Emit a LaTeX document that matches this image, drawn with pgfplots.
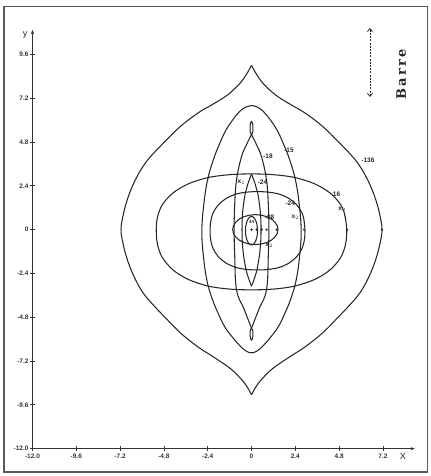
\documentclass[border=0pt]{standalone}
\usepackage{fontspec}
\setmainfont{Liberation Sans}
\newfontfamily\barrefont{DejaVu Serif}
\usepackage{pgfplots}
\pgfplotsset{compat=1.18}
\usetikzlibrary{arrows.meta}
\begin{document}
\begin{tikzpicture}
\pgfplotsset{cur/.style={line width=1.05pt, black!85, smooth, tension=0.7, mark=none}}
\begin{axis}[
  x=18.25pt, y=18.25pt,
  xmin=-12, xmax=9.0, ymin=-12, ymax=11.0,
  axis lines=left,
  axis line style={line width=0.9pt, black!80, -{Latex[length=5pt,width=3pt]}},
  clip=false,
  xtick={-12,-9.6,-7.2,-4.8,-2.4,0,2.4,4.8,7.2},
  xticklabels={-12.0,-9.6,-7.2,-4.8,-2.4,0,2.4,4.8,7.2},
  ytick={-12,-9.6,-7.2,-4.8,-2.4,0,2.4,4.8,7.2,9.6},
  yticklabels={-12.0,-9.6,-7.2,-4.8,-2.4,0,2.4,4.8,7.2,9.6},
  tick align=center,
  major tick length=5pt,
  tick style={line width=0.7pt, black!80},
  ticklabel style={font=\fontsize{6.5}{7}\selectfont\bfseries, text=black!80},
  xticklabel style={yshift=1pt},
  yticklabel style={xshift=2pt},
]
% -136 outer cusped lens
\addplot[cur] coordinates {(0,9.0)(0.25,8.55)(0.56,8.1)(1.0,7.65)(1.45,7.28)(2.2,6.82)(2.93,6.39)(3.9,5.65)(4.75,4.82)(5.55,3.98)(5.95,3.45)(6.3,2.85)(6.6,2.2)(6.85,1.5)(7.03,0.8)(7.15,0)(7.03,-0.8)(6.85,-1.5)(6.6,-2.2)(6.3,-2.85)(5.95,-3.45)(5.5,-4.0)(4.7,-4.85)(3.85,-5.7)(2.9,-6.45)(2.2,-6.9)(1.45,-7.4)(1.0,-7.75)(0.56,-8.2)(0.25,-8.6)(0,-9.05)};
\addplot[cur] coordinates {(0,9.0)(-0.25,8.55)(-0.56,8.1)(-1.0,7.65)(-1.45,7.28)(-2.2,6.82)(-2.93,6.39)(-3.9,5.65)(-4.75,4.82)(-5.55,3.98)(-5.95,3.45)(-6.3,2.85)(-6.6,2.2)(-6.85,1.5)(-7.03,0.8)(-7.15,0)(-7.03,-0.8)(-6.85,-1.5)(-6.6,-2.2)(-6.3,-2.85)(-5.95,-3.45)(-5.5,-4.0)(-4.7,-4.85)(-3.85,-5.7)(-2.9,-6.45)(-2.2,-6.9)(-1.45,-7.4)(-1.0,-7.75)(-0.56,-8.2)(-0.25,-8.6)(0,-9.05)};
% -15 lens
\addplot[cur] coordinates {(0,6.8)(0.3,6.72)(0.64,6.48)(1.0,6.05)(1.4,5.45)(1.75,4.7)(2.1,3.8)(2.4,2.75)(2.6,1.5)(2.72,0)(2.65,-1.3)(2.45,-2.75)(2.15,-3.8)(1.8,-4.65)(1.45,-5.35)(1.0,-5.95)(0.6,-6.4)(0.3,-6.65)(0,-6.75)(-0.3,-6.65)(-0.6,-6.4)(-1.0,-5.95)(-1.45,-5.35)(-1.8,-4.65)(-2.15,-3.8)(-2.45,-2.75)(-2.65,-1.3)(-2.72,0)(-2.6,1.5)(-2.4,2.75)(-2.1,3.8)(-1.75,4.7)(-1.4,5.45)(-1.0,6.05)(-0.64,6.48)(-0.3,6.72)(0,6.8)(0.3,6.72)};
% -18 lens
\addplot[cur] coordinates {(0,5.2)(0.3,4.6)(0.56,3.95)(0.82,2.73)(0.92,1.4)(0.95,0)(0.92,-1.4)(0.82,-3.3)(0.41,-4.35)(0,-5.4)};
\addplot[cur] coordinates {(0,5.2)(-0.3,4.6)(-0.56,3.95)(-0.82,2.73)(-0.92,1.4)(-0.95,0)(-0.92,-1.4)(-0.82,-3.3)(-0.41,-4.35)(0,-5.4)};
% small loops
\addplot[cur] coordinates {(0,5.2)(0.07,5.35)(0.08,5.6)(0.05,5.85)(0,5.92)(-0.05,5.85)(-0.08,5.6)(-0.07,5.35)(0,5.2)};
\addplot[cur] coordinates {(0,-5.4)(0.07,-5.55)(0.08,-5.75)(0.05,-5.98)(0,-6.05)(-0.05,-5.98)(-0.08,-5.75)(-0.07,-5.55)(0,-5.4)};
% x1 -24 lens
\addplot[cur] coordinates {(0,3.05)(0.2,2.5)(0.34,2.0)(0.48,1.0)(0.52,0)(0.48,-1.0)(0.34,-2.0)(0.2,-2.55)(0,-3.1)};
\addplot[cur] coordinates {(0,3.05)(-0.2,2.5)(-0.34,2.0)(-0.48,1.0)(-0.52,0)(-0.48,-1.0)(-0.34,-2.0)(-0.2,-2.55)(0,-3.1)};
% -16 oval
\addplot[cur] coordinates {(5.22,-0.05)(5.072,0.955)(4.63,1.69)(3.911,2.27)(2.93,2.70)(1.693,2.96)(0,3.05)(-1.693,2.96)(-2.93,2.70)(-3.911,2.27)(-4.63,1.69)(-5.072,0.955)(-5.22,-0.05)(-5.072,-1.104)(-4.63,-1.874)(-3.911,-2.485)(-2.93,-2.933)(-1.693,-3.208)(0,-3.30)(1.693,-3.208)(2.93,-2.933)(3.911,-2.485)(4.63,-1.874)(5.072,-1.104)(5.22,-0.05)(5.072,0.955)};
% -24 oval
\addplot[cur] coordinates {(2.93,-0.06)(2.856,0.634)(2.636,1.141)(2.278,1.543)(1.789,1.838)(1.173,2.019)(0.33,2.08)(-0.513,2.019)(-1.129,1.838)(-1.618,1.543)(-1.976,1.141)(-2.196,0.634)(-2.27,-0.06)(-2.196,-0.757)(-1.976,-1.267)(-1.618,-1.671)(-1.129,-1.967)(-0.513,-2.149)(0.33,-2.21)(1.173,-2.149)(1.789,-1.967)(2.278,-1.671)(2.636,-1.267)(2.856,-0.757)(2.93,-0.06)(2.856,0.634)};
% -38 oval
\addplot[cur] coordinates {(1.45,0)(1.41,0.21)(1.28,0.41)(1.09,0.58)(0.83,0.71)(0.53,0.79)(0.21,0.82)(-0.11,0.79)(-0.41,0.71)(-0.67,0.58)(-0.86,0.41)(-0.99,0.21)(-1.03,0)(-0.99,-0.21)(-0.86,-0.41)(-0.67,-0.58)(-0.41,-0.71)(-0.11,-0.79)(0.21,-0.82)(0.53,-0.79)(0.83,-0.71)(1.09,-0.58)(1.28,-0.41)(1.41,-0.21)(1.45,0)(1.41,0.21)};
% innermost oval
\addplot[cur] coordinates {(0.33,-0.06)(0.286,0.33)(0.165,0.615)(0,0.72)(-0.165,0.615)(-0.286,0.33)(-0.33,-0.06)(-0.286,-0.45)(-0.165,-0.735)(0,-0.84)(0.165,-0.735)(0.286,-0.45)(0.33,-0.06)(0.286,0.33)};
% dots on the x axis
\addplot[only marks, mark=*, mark size=0.9pt, black!85] coordinates {(0,0)(0.28,0)(0.56,0)(0.83,0)(1.38,0)(2.88,0)(5.23,0)(7.15,0)};
% labels
\begin{scope}[every node/.style={font=\fontsize{6.5}{7}\selectfont\bfseries, text=black!85, inner sep=0pt}]
\node at (axis cs:6.38,3.81) {-136};
\node at (axis cs:2.05,4.36) {-15};
\node at (axis cs:0.9,4.03) {-18};
\node at (axis cs:-0.55,2.6) {x$_1$};
\node at (axis cs:0.6,2.6) {-24};
\node at (axis cs:4.6,1.95) {-16};
\node at (axis cs:4.97,1.13) {x$_2$};
\node at (axis cs:2.12,1.46) {-24};
\node at (axis cs:2.4,0.69) {x$_2$};
\node at (axis cs:0.99,0.69) {-38};
\node at (axis cs:0.97,-0.84) {x$_2$};
\node[font=\fontsize{4.5}{5}\selectfont\bfseries] at (axis cs:0.0,0.4) {44};
\end{scope}
\node[font=\fontsize{9}{10}\selectfont, text=black!85] at (axis cs:-12.41,10.66) {y};
\node[font=\fontsize{9}{10}\selectfont, text=black!85] at (axis cs:8.3,-12.4) {X};
% Barre
\draw[line width=0.8pt, black!85, dash pattern=on 2pt off 1.2pt, {Straight Barb[length=3pt,width=5pt]}-{Straight Barb[length=3pt,width=5pt]}] (axis cs:6.49,7.27) -- (axis cs:6.49,11.05);
\node[rotate=90, font=\barrefont\bfseries\fontsize{13}{14}\selectfont, text=black!85] at (axis cs:8.2,8.5) {B\,a\,r\,r\,e};
% frame and bounding box
\draw[line width=1.1pt, black!65] (axis cs:-13.56,-13.28) rectangle (axis cs:9.62,12.2);
\coordinate (BL) at (axis cs:-13.78,-13.5);
\coordinate (TR) at (axis cs:9.78,12.58);
\end{axis}
\pgfresetboundingbox
\path[use as bounding box] (BL) rectangle (TR);
\end{tikzpicture}
\end{document}
